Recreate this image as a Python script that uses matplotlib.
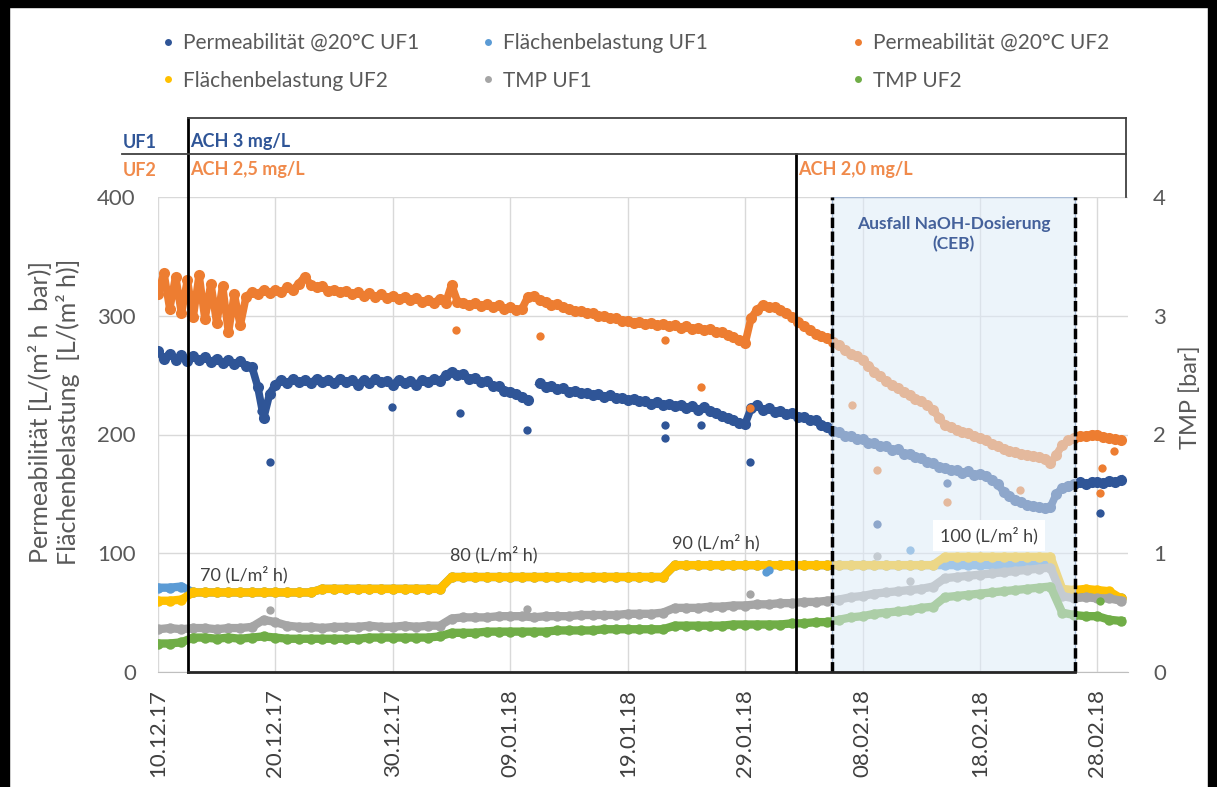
import numpy as np
import matplotlib
matplotlib.use("Agg")
import matplotlib.pyplot as plt
import matplotlib.dates as mdates
from matplotlib.lines import Line2D
from matplotlib.patches import Rectangle

plt.rcParams['font.family'] = ['Lato', 'DejaVu Sans']

# --- data: time in days after 10.12.2017 ---
start = mdates.date2num(np.datetime64('2017-12-10'))
tick_days = [0, 10, 20, 30, 40, 50, 60, 70, 80]

half_days = np.arange(0, 82.5, 0.5)   # permeability readings, every 12 h
full_days = np.arange(0, 83, 1)       # flux and TMP readings, daily

perm_uf1 = [270, 264, 268, 263, 267, 262, 266, 263, 265, 261,
            264, 260, 263, 259, 262, 258, 257, 240, 214, 234,
            242, 246, 243, 247, 244, 246, 243, 247, 244, 246,
            243, 247, 244, 246, 242, 246, 243, 247, 244, 245,
            242, 246, 243, 245, 242, 246, 244, 247, 245, 250,
            253, 250, 251, 247, 248, 244, 245, 241, 241, 237,
            236, 234, 232, 229, np.nan, 243, 240, 241, 238, 239,
            236, 237, 235, 235, 233, 234, 232, 233, 231, 231,
            229, 230, 228, 228, 226, 227, 225, 226, 224, 225,
            222, 224, 221, 223, 220, 218, 216, 214, 212, 210,
            209, 222, 225, 221, 222, 219, 220, 217, 218, 215,
            215, 212, 212, 208, 206, 203, 202, 199, 199, 196,
            196, 193, 193, 190, 190, 187, 188, 184, 184, 181,
            180, 177, 176, 173, 172, 170, 170, 168, 169, 166,
            167, 165, 162, 158, 152, 148, 145, 143, 141, 140,
            139, 138, 139, 150, 155, 157, 158, 160, 158, 160,
            160, 159, 161, 160, 162]

perm_uf2 = [318, 336, 306, 333, 302, 330, 299, 334, 297, 327,
            294, 325, 286, 318, 292, 316, 320, 318, 322, 319,
            322, 320, 324, 322, 327, 333, 326, 324, 325, 321,
            322, 320, 321, 318, 320, 317, 319, 316, 318, 315,
            317, 314, 316, 313, 315, 312, 313, 311, 314, 311,
            326, 312, 311, 309, 311, 308, 310, 307, 309, 306,
            307, 305, 306, 316, 317, 313, 312, 309, 310, 307,
            306, 304, 304, 302, 302, 300, 300, 298, 298, 296,
            296, 294, 295, 293, 294, 292, 293, 291, 292, 290,
            291, 289, 290, 288, 289, 286, 286, 284, 282, 280,
            277, 298, 305, 309, 307, 307, 305, 302, 299, 295,
            291, 288, 285, 283, 281, 278, 275, 271, 268, 266,
            263, 258, 253, 249, 245, 242, 239, 236, 233, 230,
            228, 225, 221, 214, 208, 206, 204, 202, 201, 199,
            197, 195, 192, 190, 188, 186, 185, 184, 183, 182,
            181, 179, 176, 183, 191, 195, 197, 199, 199, 200,
            200, 198, 197, 196, 195]

flux_uf1 = [71, 71, 72, 67, 67, 67, 67, 67, 67, 67,
            67, 67, 67, 67, 70, 70, 70, 70, 70, 70,
            70, 70, 70, 70, 70, 80, 80, 80, 80, 80,
            80, 80, 80, 80, 80, 80, 80, 80, 80, 80,
            80, 80, 80, 80, 90, 90, 90, 90, 90, 90,
            90, 90, 90, 90, 90, 90, 90, 90, 90, 90,
            90, 90, 90, 90, 90, 90, 90, 90, 90, 90,
            90, 90, 90, 90, 90, 90, 90, 65, 64, 65,
            64, 64, 62]

flux_uf2 = [60, 60, 61, 67, 67, 67, 67, 67, 67, 67,
            67, 67, 67, 67, 70, 70, 70, 70, 70, 70,
            70, 70, 70, 70, 70, 80, 80, 80, 80, 80,
            80, 80, 80, 80, 80, 80, 80, 80, 80, 80,
            80, 80, 80, 80, 90, 90, 90, 90, 90, 90,
            90, 90, 90, 90, 90, 90, 90, 90, 90, 90,
            90, 90, 90, 90, 90, 90, 90, 97, 97, 97,
            97, 97, 97, 97, 97, 97, 97, 70, 69, 70,
            69, 68, 62]

tmp_uf1 = [0.36, 0.37, 0.36, 0.37, 0.37, 0.36, 0.37, 0.37, 0.38, 0.44,
           0.42, 0.39, 0.38, 0.38, 0.37, 0.38, 0.38, 0.38, 0.39, 0.38,
           0.38, 0.39, 0.38, 0.39, 0.39, 0.45, 0.46, 0.46, 0.46, 0.47,
           0.47, 0.47, 0.46, 0.47, 0.47, 0.47, 0.48, 0.48, 0.48, 0.48,
           0.49, 0.49, 0.49, 0.50, 0.54, 0.54, 0.54, 0.55, 0.55, 0.56,
           0.56, 0.57, 0.57, 0.58, 0.58, 0.59, 0.59, 0.60, 0.61, 0.63,
           0.64, 0.66, 0.67, 0.68, 0.69, 0.70, 0.72, 0.79, 0.80, 0.81,
           0.82, 0.83, 0.84, 0.85, 0.86, 0.87, 0.88, 0.64, 0.62, 0.63,
           0.62, 0.62, 0.60]

tmp_uf2 = [0.24, 0.24, 0.25, 0.29, 0.29, 0.28, 0.29, 0.28, 0.29, 0.30,
           0.29, 0.28, 0.28, 0.28, 0.28, 0.28, 0.28, 0.28, 0.29, 0.29,
           0.29, 0.29, 0.29, 0.29, 0.30, 0.33, 0.33, 0.33, 0.34, 0.34,
           0.34, 0.34, 0.34, 0.34, 0.35, 0.35, 0.35, 0.35, 0.36, 0.36,
           0.36, 0.36, 0.36, 0.36, 0.39, 0.39, 0.39, 0.39, 0.39, 0.40,
           0.40, 0.40, 0.40, 0.40, 0.41, 0.41, 0.42, 0.42, 0.44, 0.46,
           0.47, 0.49, 0.50, 0.51, 0.52, 0.54, 0.55, 0.63, 0.64, 0.65,
           0.66, 0.67, 0.68, 0.69, 0.70, 0.71, 0.72, 0.50, 0.48, 0.47,
           0.47, 0.44, 0.43]

# single readings away from the bands
perm_uf1_out_t = [8.8, 9.5, 19.9, 25.7, 31.4, 43.2, 43.2, 46.2, 50.4, 61.2, 67.2, 80.2]
perm_uf1_out_v = [220, 177, 223, 218, 204, 208, 197, 208, 177, 125, 159, 134]
perm_uf2_out_t = [25.4, 32.5, 43.2, 46.2, 50.4, 59.1, 61.2, 67.2, 73.4, 80.2, 80.4, 81.4]
perm_uf2_out_v = [288, 283, 280, 240, 222, 225, 170, 143, 153, 151, 172, 186]
flux_uf1_out_t = [51.8, 52.0, 64.0]
flux_uf1_out_v = [84, 86, 103]
tmp_uf1_out_t = [9.5, 31.4, 50.4, 61.2, 64.0]
tmp_uf1_out_v = [0.52, 0.53, 0.66, 0.98, 0.77]
tmp_uf2_out_t = [80.2]
tmp_uf2_out_v = [0.60]

# events (days after 10.12.2017)
ach_start = 2.55        # 12.12.17
ach_uf2_change = 54.35  # 02.02.18
ceb_start = 57.4        # 05.02.18
ceb_end = 78.1          # 26.02.18

flux_labels = ["70 (L/m² h)", "80 (L/m² h)", "90 (L/m² h)", "100 (L/m² h)"]
flux_label_days = [3.6, 24.9, 43.8, 66.6]
flux_label_y = [0.204, 0.246, 0.272, 0.288]

c_perm1 = '#2f5597'
c_flux1 = '#5b9bd5'
c_perm2 = '#ed7d31'
c_flux2 = '#ffc000'
c_tmp1 = '#a5a5a5'
c_tmp2 = '#70ad47'
grey_txt = '#595959'

W, H = 1217, 787
def fx(px):
    return px / W
def fy(py):
    return 1 - py / H

fig = plt.figure(figsize=(W / 100, H / 100), dpi=100)
ax = fig.add_axes([fx(158), fy(672), 970 / W, 475 / H])
ax2 = ax.twinx()

t_half = start + half_days
t_full = start + full_days

perm_style = dict(marker='o', ms=8, mew=0, lw=5.5)
band_style = dict(marker='o', ms=7.5, mew=0, lw=6)
dot = dict(ls='none', marker='o', ms=6, mew=0)
ax.plot(t_half, perm_uf1, color=c_perm1, **perm_style)
ax.plot(t_full, flux_uf1, color=c_flux1, **band_style)
ax.plot(t_half, perm_uf2, color=c_perm2, **perm_style)
ax.plot(t_full, flux_uf2, color=c_flux2, **band_style)
ax.plot(start + np.array(perm_uf1_out_t), perm_uf1_out_v, color=c_perm1, **dot)
ax.plot(start + np.array(flux_uf1_out_t), flux_uf1_out_v, color=c_flux1, **dot)
ax.plot(start + np.array(perm_uf2_out_t), perm_uf2_out_v, color=c_perm2, **dot)

ax2.plot(t_full, tmp_uf1, color=c_tmp1, **band_style)
ax2.plot(t_full, tmp_uf2, color=c_tmp2, **band_style)
ax2.plot(start + np.array(tmp_uf1_out_t), tmp_uf1_out_v, color=c_tmp1, **dot)
ax2.plot(start + np.array(tmp_uf2_out_t), tmp_uf2_out_v, color=c_tmp2, **dot)

# axes
ax.set_xlim(start, start + 82.6)
ax.set_ylim(0, 400)
ax2.set_ylim(0, 4)
ax.set_yticks([0, 100, 200, 300, 400])
ax2.set_yticks([0, 1, 2, 3, 4])
ax.set_xticks(start + np.array(tick_days))
ax.xaxis.set_major_formatter(mdates.DateFormatter('%d.%m.%y'))
ax.grid(True, color='#d9d9d9', lw=1)
ax.set_axisbelow(True)
for a in (ax, ax2):
    for s in a.spines.values():
        s.set_visible(False)
ax.spines['bottom'].set_visible(True)
ax.spines['bottom'].set_color('#bfbfbf')
ax.tick_params(axis='x', length=0, labelrotation=90, labelsize=16, pad=12, labelcolor='#404040')
ax.tick_params(axis='y', length=0, labelsize=16, pad=16, labelcolor=grey_txt)
ax2.tick_params(axis='y', length=0, labelsize=16, pad=18, labelcolor=grey_txt)

# CEB failure period: washed-out overlay on top of data
ax2.axvspan(start + ceb_start, start + ceb_end, facecolor=(0.87, 0.92, 0.97, 0.55),
            edgecolor='#a9bcd6', lw=1, zorder=5)
ax2.text(start + (ceb_start + ceb_end) / 2, 0.96, "Ausfall NaOH-Dosierung\n(CEB)",
         transform=ax2.get_xaxis_transform(), ha='center', va='top',
         fontsize=12.5, fontweight='bold', color='#44619b', zorder=8, linespacing=1.3)

# dosing boxes and event lines
xt = ax2.get_xaxis_transform()
line_kw = dict(clip_on=False, zorder=7)
ax2.plot([start + ach_start] * 2, [0, 1.1663], transform=xt, color='black', lw=2, **line_kw)
ax2.plot([start + ach_uf2_change] * 2, [0, 1.0905], transform=xt, color='black', lw=2, **line_kw)
for d in (ceb_start, ceb_end):
    ax2.plot([start + d] * 2, [0, 1.0], transform=xt, color='black', lw=2.5,
             ls=(0, (3, 1)), **line_kw)
ax2.plot([start + ach_start, start + ceb_end], [0, 0], transform=xt, color='#262626', lw=2, **line_kw)
ax2.plot([start + ach_start, start + 82.45], [1.1663, 1.1663], transform=xt, color='#404040', lw=1.3, **line_kw)
ax2.plot([-0.037, 0.998], [1.0905, 1.0905], transform=ax2.transAxes, color='#404040', lw=1.3, **line_kw)
ax2.plot([0.998, 0.998], [1.0, 1.1663], transform=ax2.transAxes, color='#404040', lw=1.3, **line_kw)

fig.text(fx(123), fy(142), "UF1", color=c_perm1, fontsize=13, fontweight='bold', va='center')
fig.text(fx(190), fy(142), "ACH 3 mg/L", color=c_perm1, fontsize=13, fontweight='bold', va='center')
fig.text(fx(123), fy(170), "UF2", color='#f08a4b', fontsize=13, fontweight='bold', va='center')
fig.text(fx(190), fy(170), "ACH 2,5 mg/L", color='#f08a4b', fontsize=13, fontweight='bold', va='center')
fig.text(fx(798), fy(170), "ACH 2,0 mg/L", color='#f08a4b', fontsize=13, fontweight='bold', va='center')

# flux level labels
for lab, d, yy in zip(flux_labels, flux_label_days, flux_label_y):
    bb = dict(facecolor='white', edgecolor='none', pad=5) if lab.startswith('100') else None
    ax2.text(start + d, yy, lab, transform=xt, fontsize=13, color='#404040',
             va='center', ha='left', zorder=9, bbox=bb)

# axis titles
fig.text(fx(40), fy(412), "Permeabilität [L/(m² h  bar)]", rotation=90, ha='center', va='center',
         fontsize=18, color=grey_txt)
fig.text(fx(68), fy(412), "Flächenbelastung  [L/(m² h)]", rotation=90, ha='center', va='center',
         fontsize=18, color=grey_txt)
fig.text(fx(1190), fy(397), "TMP [bar]", rotation=90, ha='center', va='center',
         fontsize=17, color=grey_txt)

# legend, three columns of two rows
def handle(c):
    return Line2D([], [], marker='o', ls='none', ms=5, mew=0, color=c)

legend_cols = [
    ([handle(c_perm1), handle(c_flux2)], ["Permeabilität @20°C UF1", "Flächenbelastung UF2"], 161.75),
    ([handle(c_flux1), handle(c_tmp1)], ["Flächenbelastung UF1", "TMP UF1"], 481.75),
    ([handle(c_perm2), handle(c_tmp2)], ["Permeabilität @20°C UF2", "TMP UF2"], 851.75),
]
for hs, labs, left in legend_cols:
    leg = fig.legend(hs, labs, loc='upper left', bbox_to_anchor=(fx(left), fy(33)),
                     frameon=False, fontsize=15, handlelength=0.6, handletextpad=0.4,
                     borderpad=0, borderaxespad=0, labelspacing=0.85)
    for t in leg.get_texts():
        t.set_color(grey_txt)

# black frame of the screenshot
for rect in [(0, 0, fx(9), 1), (0, fy(7), 1, 7 / H), (fx(1208), 0, 9 / W, 1)]:
    fig.patches.append(Rectangle(rect[:2], rect[2], rect[3], transform=fig.transFigure,
                                 color='black', zorder=10))

fig.savefig('out.png', dpi=100)
